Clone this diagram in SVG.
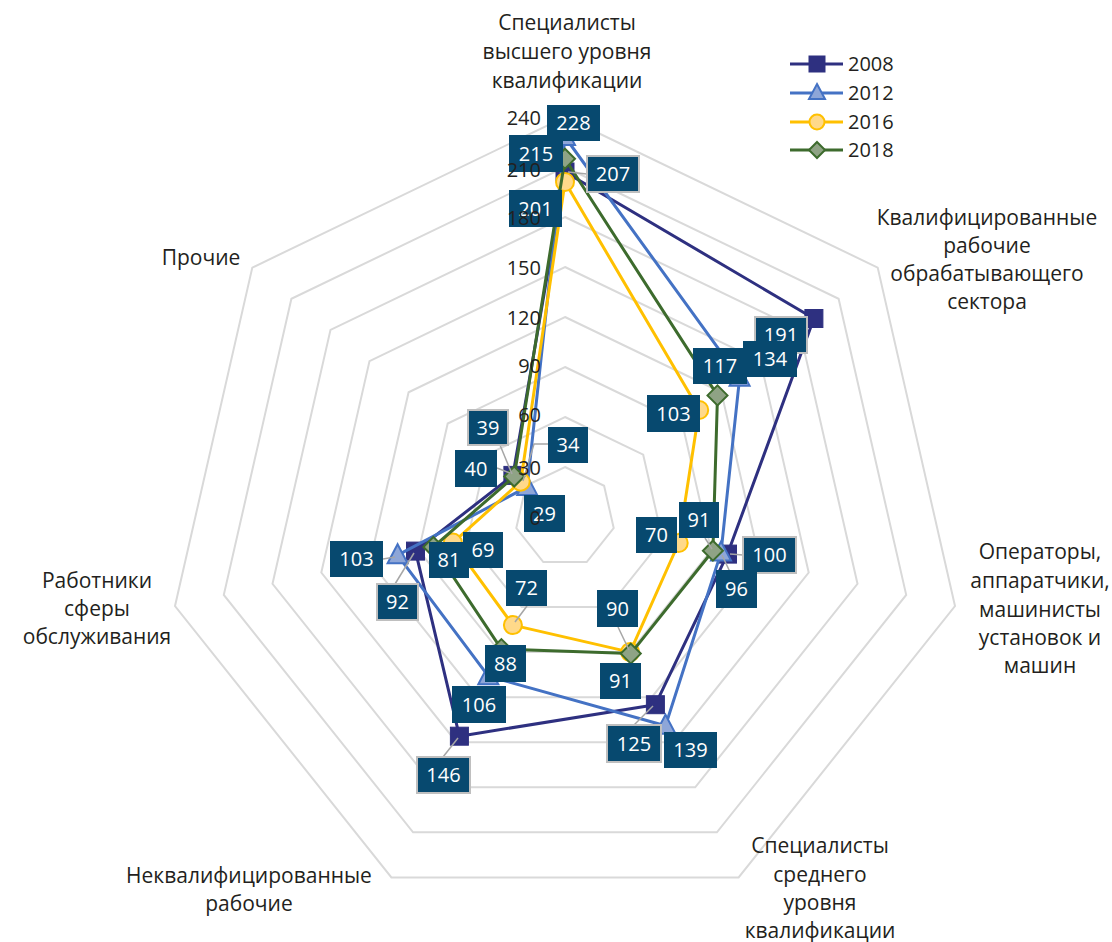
<svg xmlns="http://www.w3.org/2000/svg" width="1112" height="942" viewBox="0 0 1112 942">
<style>
.grid{fill:none;stroke:#D9D9D9;stroke-width:2}
.ax{font-family:"Open Sans","Liberation Sans",sans-serif;font-size:21px;fill:#231F20;text-anchor:middle}
.sc{font-family:"Open Sans","Liberation Sans",sans-serif;font-size:20px;fill:#231F20;text-anchor:end}
.lg{font-family:"Open Sans","Liberation Sans",sans-serif;font-size:20px;fill:#231F20}
.box{fill:#07496F}
.boxb{fill:#07496F;stroke:#BFBFBF;stroke-width:2}
.bt{font-family:"Open Sans","Liberation Sans",sans-serif;font-size:20px;fill:#FFFFFF;text-anchor:middle}
.ld{fill:none;stroke:#A6A6A6;stroke-width:1.5}
.s08{fill:none;stroke:#2E3080;stroke-width:3;stroke-linejoin:round}
.s12{fill:none;stroke:#4472C4;stroke-width:3;stroke-linejoin:round}
.s16{fill:none;stroke:#FFC000;stroke-width:3;stroke-linejoin:round}
.s18{fill:none;stroke:#3D6B2D;stroke-width:3;stroke-linejoin:round}
.m08{fill:#2E3080;stroke:#2E3080;stroke-width:1}
.m12{fill:#8EA6D8;stroke:#4472C4;stroke-width:2}
.m16{fill:#FFD98A;stroke:#FFC000;stroke-width:2}
.m18{fill:#8FA385;stroke:#3D6B2D;stroke-width:2}
</style>
<defs>
<rect id="sq" x="-9" y="-9" width="18" height="18"/>
<path id="tri" d="M0,-11 L10,8 L-10,8 Z"/>
<circle id="cir" r="9"/>
<path id="dia" d="M0,-10 L10,0 L0,10 L-10,0 Z"/>
<rect id="sqL" x="-8" y="-8" width="16" height="16"/>
<path id="triL" d="M0,-9 L8,6 L-8,6 Z"/>
<circle id="cirL" r="7.5"/>
<path id="diaL" d="M0,-8 L8,0 L0,8 L-8,0 Z"/>
</defs>
<rect width="1112" height="942" fill="#FFFFFF"/>

<g id="grid">
<polygon class="grid" points="565,467 604.1,485.8 613.7,528.1 586.7,562 543.3,562 516.3,528.1 525.9,485.8"/>
<polygon class="grid" points="565,417 643.2,454.7 662.5,539.3 608.4,607.1 521.6,607.1 467.5,539.3 486.8,454.7"/>
<polygon class="grid" points="565,367 682.3,423.5 711.2,550.4 630.1,652.1 499.9,652.1 418.8,550.4 447.7,423.5"/>
<polygon class="grid" points="565,317 721.4,392.3 760,561.5 651.8,697.2 478.2,697.2 370,561.5 408.6,392.3"/>
<polygon class="grid" points="565,267 760.5,361.1 808.7,572.6 673.5,742.2 456.5,742.2 321.3,572.6 369.5,361.1"/>
<polygon class="grid" points="565,217 799.5,329.9 857.5,583.8 695.2,787.3 434.8,787.3 272.5,583.8 330.5,329.9"/>
<polygon class="grid" points="565,167 838.6,298.8 906.2,594.9 716.9,832.3 413.1,832.3 223.8,594.9 291.4,298.8"/>
<polygon class="grid" points="565,117 877.7,267.6 955,606 738.6,877.4 391.4,877.4 175,606 252.3,267.6"/>
</g>

<g id="axis-labels">
<text class="ax" x="567" y="30">Специалисты</text>
<text class="ax" x="567" y="59">высшего уровня</text>
<text class="ax" x="567" y="88">квалификации</text>
<text class="ax" x="987" y="225">Квалифицированные</text>
<text class="ax" x="987" y="253">рабочие</text>
<text class="ax" x="987" y="281">обрабатывающего</text>
<text class="ax" x="987" y="309">сектора</text>
<text class="ax" x="1040" y="559">Операторы,</text>
<text class="ax" x="1040" y="588">аппаратчики,</text>
<text class="ax" x="1040" y="617">машинисты</text>
<text class="ax" x="1040" y="645">установок и</text>
<text class="ax" x="1040" y="673">машин</text>
<text class="ax" x="820" y="853">Специалисты</text>
<text class="ax" x="820" y="882">среднего</text>
<text class="ax" x="820" y="910">уровня</text>
<text class="ax" x="820" y="938">квалификации</text>
<text class="ax" x="249" y="883">Неквалифицированные</text>
<text class="ax" x="249" y="911">рабочие</text>
<text class="ax" x="97" y="588">Работники</text>
<text class="ax" x="97" y="616">сферы</text>
<text class="ax" x="97" y="644">обслуживания</text>
<text class="ax" x="201" y="265">Прочие</text>
</g>

<g id="series-2008">
<polygon class="s08" points="565,172 813.9,318.5 727.5,554.1 655.4,704.7 459.4,736.2 415.5,551.1 512.9,475.4"/>
<use href="#sq" class="m08" x="565" y="172"/>
<use href="#sq" class="m08" x="813.9" y="318.5"/>
<use href="#sq" class="m08" x="727.5" y="554.1"/>
<use href="#sq" class="m08" x="655.4" y="704.7"/>
<use href="#sq" class="m08" x="459.4" y="736.2"/>
<use href="#sq" class="m08" x="415.5" y="551.1"/>
<use href="#sq" class="m08" x="512.9" y="475.4"/>
</g>
<g id="series-2012">
<polygon class="s12" points="565,137 739.6,377.8 721,552.6 665.5,725.7 488.3,676.2 397.6,555.2 527.2,486.9"/>
<use href="#tri" class="m12" x="565" y="137"/>
<use href="#tri" class="m12" x="739.6" y="377.8"/>
<use href="#tri" class="m12" x="721" y="552.6"/>
<use href="#tri" class="m12" x="665.5" y="725.7"/>
<use href="#tri" class="m12" x="488.3" y="676.2"/>
<use href="#tri" class="m12" x="397.6" y="555.2"/>
<use href="#tri" class="m12" x="527.2" y="486.9"/>
</g>
<g id="series-2016">
<polygon class="s16" points="565,182 699.2,410 678.7,543 630.1,652.1 512.9,625.1 452.9,542.6 520.7,481.7"/>
<use href="#cir" class="m16" x="565" y="182"/>
<use href="#cir" class="m16" x="699.2" y="410"/>
<use href="#cir" class="m16" x="678.7" y="543"/>
<use href="#cir" class="m16" x="630.1" y="652.1"/>
<use href="#cir" class="m16" x="512.9" y="625.1"/>
<use href="#cir" class="m16" x="452.9" y="542.6"/>
<use href="#cir" class="m16" x="520.7" y="481.7"/>
</g>
<g id="series-2018">
<polygon class="s18" points="565,158.7 717.5,395.4 712.9,550.7 630.8,653.6 501.4,649.1 433.4,547 514.2,476.5"/>
<use href="#dia" class="m18" x="565" y="158.7"/>
<use href="#dia" class="m18" x="717.5" y="395.4"/>
<use href="#dia" class="m18" x="712.9" y="550.7"/>
<use href="#dia" class="m18" x="630.8" y="653.6"/>
<use href="#dia" class="m18" x="501.4" y="649.1"/>
<use href="#dia" class="m18" x="433.4" y="547"/>
<use href="#dia" class="m18" x="514.2" y="476.5"/>
</g>

<g id="connectors">
<polyline class="ld" points="587,174 568,172"/>
<polyline class="ld" points="548,444 534,444 523,481"/>
<polyline class="ld" points="500,445 512,474"/>
<polyline class="ld" points="497,468 510,473"/>
<polyline class="ld" points="383,559 395,557"/>
<polyline class="ld" points="395,584 414,553"/>
<polyline class="ld" points="527,606 515,622"/>
<polyline class="ld" points="618,627 629,650"/>
<polyline class="ld" points="443,757 458,738"/>
<polyline class="ld" points="634,725 653,706"/>
<polyline class="ld" points="743,555 730,554"/>
<polyline class="ld" points="730,572 722,555"/>
<polyline class="ld" points="705,538 712,549"/>
</g>

<g id="labels-2008">
<rect class="boxb" x="587" y="156" width="52" height="36"/><text class="bt" x="613" y="181">207</text>
<rect class="boxb" x="755" y="317" width="52" height="36"/><text class="bt" x="781" y="342">191</text>
<rect class="boxb" x="743" y="537" width="53" height="36"/><text class="bt" x="769.5" y="562">100</text>
<rect class="boxb" x="607" y="725" width="54" height="37"/><text class="bt" x="634" y="751">125</text>
<rect class="boxb" x="417" y="757" width="53" height="36"/><text class="bt" x="443.5" y="782">146</text>
<rect class="boxb" x="377" y="584" width="41" height="36"/><text class="bt" x="397.5" y="609">92</text>
<rect class="boxb" x="468" y="410" width="40" height="35"/><text class="bt" x="488" y="435">39</text>
</g>
<g id="labels-2012">
<rect class="box" x="547" y="105" width="53" height="36"/><text class="bt" x="573.5" y="130">228</text>
<rect class="box" x="743" y="341" width="54" height="36"/><text class="bt" x="770" y="366">134</text>
<rect class="box" x="716" y="570" width="41" height="38"/><text class="bt" x="736.5" y="596">96</text>
<rect class="box" x="664" y="732" width="53" height="36"/><text class="bt" x="690.5" y="757">139</text>
<rect class="box" x="452" y="686" width="54" height="37"/><text class="bt" x="479" y="712">106</text>
<rect class="box" x="330" y="541" width="53" height="36"/><text class="bt" x="356.5" y="566">103</text>
<rect class="box" x="524" y="495" width="41" height="37"/><text class="bt" x="544.5" y="521">29</text>
</g>
<g id="labels-2016">
<rect class="box" x="509" y="190" width="53" height="37"/><text class="bt" x="535.5" y="216">201</text>
<rect class="box" x="647" y="395" width="53" height="37"/><text class="bt" x="673.5" y="421">103</text>
<rect class="box" x="636" y="517" width="41" height="36"/><text class="bt" x="656.5" y="542">70</text>
<rect class="box" x="597" y="590" width="41" height="37"/><text class="bt" x="617.5" y="616">90</text>
<rect class="box" x="506" y="570" width="41" height="36"/><text class="bt" x="526.5" y="595">72</text>
<rect class="box" x="463" y="532" width="40" height="36"/><text class="bt" x="483" y="557">69</text>
<rect class="box" x="548" y="427" width="40" height="36"/><text class="bt" x="568" y="452">34</text>
</g>
<g id="labels-2018">
<rect class="box" x="509" y="135" width="54" height="37"/><text class="bt" x="536" y="161">215</text>
<rect class="box" x="693" y="348" width="54" height="36"/><text class="bt" x="720" y="373">117</text>
<rect class="box" x="679" y="502" width="40" height="36"/><text class="bt" x="699" y="527">91</text>
<rect class="box" x="600" y="663" width="41" height="36"/><text class="bt" x="620.5" y="688">91</text>
<rect class="box" x="485" y="645" width="41" height="37"/><text class="bt" x="505.5" y="671">88</text>
<rect class="box" x="429" y="542" width="40" height="36"/><text class="bt" x="449" y="567">81</text>
<rect class="box" x="455" y="450" width="42" height="37"/><text class="bt" x="476" y="476">40</text>
</g>

<g id="scale">
<text class="sc" x="541" y="125">240</text>
<text class="sc" x="541" y="177">210</text>
<text class="sc" x="541" y="225">180</text>
<text class="sc" x="541" y="275">150</text>
<text class="sc" x="541" y="325">120</text>
<text class="sc" x="541" y="373">90</text>
<text class="sc" x="541" y="422">60</text>
<text class="sc" x="541" y="475">30</text>
<text class="sc" x="541" y="525">0</text>
</g>

<g id="legend">
<line class="s08" x1="790" y1="64" x2="843" y2="64"/><use href="#sqL" class="m08" x="817" y="64"/><text class="lg" x="848" y="71">2008</text>
<line class="s12" x1="790" y1="93" x2="843" y2="93"/><use href="#triL" class="m12" x="817" y="93"/><text class="lg" x="848" y="100">2012</text>
<line class="s16" x1="790" y1="122" x2="843" y2="122"/><use href="#cirL" class="m16" x="817" y="122"/><text class="lg" x="848" y="129">2016</text>
<line class="s18" x1="790" y1="150" x2="843" y2="150"/><use href="#diaL" class="m18" x="817" y="150"/><text class="lg" x="848" y="157">2018</text>
</g>
</svg>
